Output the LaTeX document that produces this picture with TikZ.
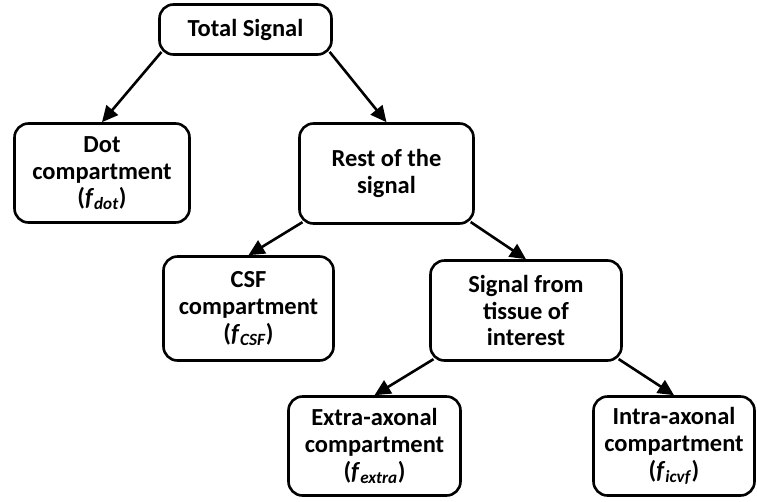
\documentclass[tikz,border=0pt]{standalone}
\usepackage{fontspec}
\setmainfont{Carlito}
\usetikzlibrary{arrows.meta}
\begin{document}
\begin{tikzpicture}[x=1pt,y=-1pt,
  box/.style={draw=black,line width=2.6pt,rounded corners=14pt,fill=white,
    inner sep=0pt,align=center,
    font=\fontsize{24.5}{26.8}\selectfont\bfseries},
  link/.style={line width=2.6pt,shorten <=-5pt,
    -{Triangle[length=16pt,width=15pt]}}]
\useasboundingbox (0,0) rectangle (757,501);
\node[box,minimum width=172pt,minimum height=50pt] (total) at (245.5,29.5) {Total Signal};
\node[box,minimum width=175pt,minimum height=99pt] (dot) at (102,173) {Dot\\compartment\\(\textit{f}\textsubscript{\textit{dot}})};
\node[box,minimum width=174pt,minimum height=100pt] (rest) at (386.5,173.5) {Rest of the\\signal};
\node[box,minimum width=170pt,minimum height=104pt] (csf) at (248.5,308.5) {CSF\\compartment\\(\textit{f}\textsubscript{\textit{CSF}})};
\node[box,minimum width=191pt,minimum height=100pt] (tissue) at (526,310.5) {Signal from\\tissue of\\interest};
\node[box,minimum width=172pt,minimum height=99pt] (extra) at (374.5,446) {Extra-axonal\\compartment\\(\textit{f}\textsubscript{\textit{extra}})};
\node[box,minimum width=161pt,minimum height=99pt] (intra) at (674,446) {Intra-axonal\\compartment\\(\textit{f}\textsubscript{\textit{icvf}})};
\draw[link] (total.south west) -- (dot.north);
\draw[link] (total.south east) -- (rest.north);
\draw[link] (rest.south west) -- (csf.north);
\draw[link] (rest.south east) -- (tissue.north);
\draw[link] (tissue.south west) -- (extra.north);
\draw[link] (tissue.south east) -- (intra.north);
\end{tikzpicture}
\end{document}
